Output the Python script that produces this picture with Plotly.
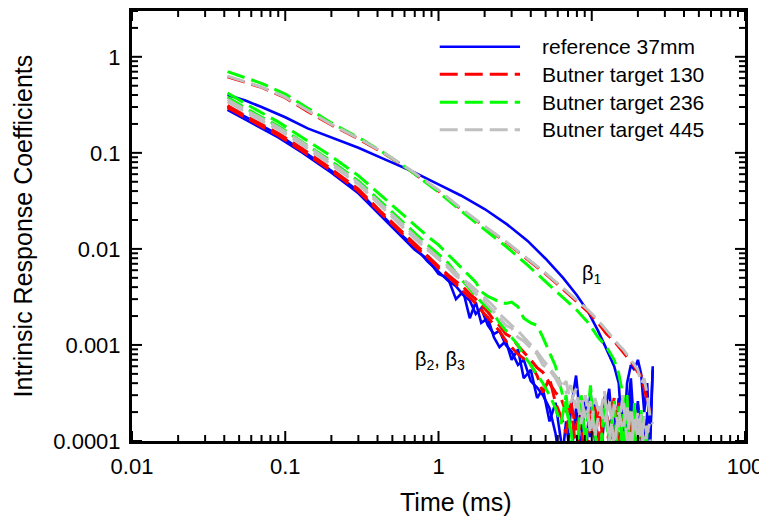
import plotly.graph_objects as go

# time axis (ms) for the beta1 curves and for the beta2/beta3 curves
t_upper = [0.042, 0.055, 0.07, 0.1, 0.14, 0.2, 0.3, 0.45, 0.65, 1.0, 1.4, 2.0, 2.8, 3.8, 5.0, 6.5,
           8.0, 9.5, 11, 12.5, 14, 15, 16, 17, 18, 19, 20, 21, 22, 23, 24, 25]
t_lower = [0.042, 0.06, 0.09, 0.13, 0.2, 0.3, 0.42, 0.56, 0.7, 0.85, 1.0, 1.15, 1.3, 1.45, 1.6, 1.75,
           1.9, 2.1, 2.3, 2.5, 2.75, 3.0, 3.3, 3.6, 4.0, 4.4, 4.8, 5.3, 5.8, 6.3,
           6.8, 7.3, 7.9, 8.5, 9.1, 9.8, 10.5, 11.3, 12.1, 13, 14, 15, 16, 17, 18, 19, 20, 21, 22, 23, 24, 25]

# beta1
ref_b1 = [0.40, 0.35, 0.30, 0.235, 0.18, 0.145, 0.113, 0.085, 0.066, 0.047, 0.036, 0.026, 0.018, 0.0122,
          0.0079, 0.0050, 0.0033, 0.0022, 0.0014, 0.0009, 0.0006, 0.0004, 0.00008, 0.0004, 0.00062,
          0.00055, 0.0007, 0.0005, 0.0002, 0.0004, 0.00008, 0.0006]
b130_b1 = [0.62, 0.54, 0.48, 0.375, 0.27, 0.195, 0.14, 0.097, 0.066, 0.040, 0.026, 0.017, 0.0115, 0.0078,
           0.0055, 0.0038, 0.0028, 0.0022, 0.0017, 0.0013, 0.0011, 0.00095, 0.00085, 0.00075, 0.00068,
           0.0006, 0.00052, 0.00048, 0.00035, 0.00028, 0.0002, None]
b236_b1 = [0.70, 0.61, 0.53, 0.41, 0.29, 0.205, 0.145, 0.098, 0.066, 0.039, 0.025, 0.0158, 0.0104, 0.0068,
           0.0046, 0.0031, 0.0023, 0.0017, 0.0012, 0.00095, 0.0007, 0.0005, 0.0003, 0.00015, 0.00022,
           0.00008, 0.00018, 0.00006, 0.00012, 0.00005, None, None]
b445_b1 = [0.63, 0.55, 0.485, 0.38, 0.275, 0.198, 0.142, 0.098, 0.067, 0.041, 0.0265, 0.0172, 0.0117,
           0.0079, 0.0056, 0.0039, 0.0029, 0.0023, 0.0018, 0.0014, 0.00115, 0.001, 0.0009, 0.0008, 0.0007,
           0.00062, 0.00055, 0.0004, 0.00045, 0.0003, 0.00018, 0.00015]

# beta2 / beta3
ref_b2 = [0.30, 0.22, 0.155, 0.105, 0.065, 0.040, 0.023, 0.0145, 0.0105, 0.0074, 0.0058, 0.0047, 0.0041,
          0.0033, 0.0029, 0.0021, 0.0024, 0.0016, 0.0013, 0.0014, 0.0010, 0.00085, 0.00062, 0.0007, 0.00042,
          0.00036, 0.0003, 0.00022, 0.00012, 0.00005,
          0.00016, 0.00006, 0.00022, 0.00008, 0.0003, 0.00011, 0.00024, 0.00005, 0.00019, 0.00035, 0.00009,
          0.00028, 0.00007, 0.0002, 0.00045, 0.00012, 0.00026, 0.00006, 0.00018, 0.00004, 0.00011, 0.00055]
ref_b3 = [0.28, 0.205, 0.145, 0.10, 0.062, 0.038, 0.022, 0.014, 0.0098, 0.0078, 0.0055, 0.0050, 0.0030,
          0.0036, 0.0019, 0.0028, 0.0017, 0.0019, 0.0012, 0.00095, 0.0011, 0.0007, 0.0009, 0.00045, 0.00055,
          0.00028, 0.00035, 0.00016, 0.00025, 0.0001,
          0.00005, 0.00021, 0.00048, 0.00015, 0.00006, 0.00033, 0.0001, 0.00005, 0.00029, 0.00012, 0.00026,
          0.00004, 0.00022, 0.00009, 0.00031, 0.00007, 0.00024, 0.00013, 0.00005, 0.0002, 0.00008, 0.00004]
b130_b2 = [0.31, 0.225, 0.16, 0.11, 0.068, 0.042, 0.0245, 0.0158, 0.0112, 0.0085, 0.0066, 0.0054, 0.0046,
           0.0040, 0.0034, 0.0030, 0.0026, 0.0022, 0.0018, 0.0016, 0.0013, 0.0012, 0.00098, 0.00085, 0.0007,
           0.00058, 0.00052, 0.0004, 0.00032, 0.00028,
           0.0002, 0.00026, 0.00013, 0.00022, 0.0001, 0.00019, 0.00024, 0.00009, 0.00021, 0.00015, 0.00028,
           0.0001, 0.00018, 0.00008, 0.00016, 0.00011, 0.00007, 0.00015, 0.00009, None, None, None]
b130_b3 = [0.295, 0.215, 0.152, 0.104, 0.065, 0.040, 0.0235, 0.0152, 0.0107, 0.0082, 0.0063, 0.0052,
           0.0043, 0.0037, 0.0031, 0.0027, 0.0023, 0.0019, 0.0016, 0.0014, 0.0011, 0.00095, 0.0008, 0.00072,
           0.00062, 0.00048, 0.00032, 0.00045, 0.00025, 0.00018,
           0.00012, 0.00024, 0.00008, 0.00017, 0.00005, 0.00014, 0.00011, 0.00022, 0.00006, 0.00013, 0.00009,
           0.00025, 0.00012, 0.00006, 0.00019, 0.00009, 0.00014, 0.00005, 0.00011, 0.00007, None, None]
b236_b2 = [0.42, 0.30, 0.21, 0.145, 0.092, 0.058, 0.036, 0.024, 0.0175, 0.0135, 0.011, 0.0088, 0.0072,
           0.0062, 0.0052, 0.0045, 0.0036, 0.0032, 0.0030, 0.0028, 0.0027, 0.0028, 0.0025, 0.0019, 0.0017,
           0.0016, 0.0012, 0.00085, 0.0006, 0.00035,
           0.00022, 0.00013, 0.00005, 0.00032, 0.00009, 0.00038, 0.00012, 0.00006, 0.00027, 0.0001, 0.00004,
           0.00023, 0.00008, 0.0003, 0.00005, 0.00017, 0.00006, 0.00021, 0.00004, 0.00012, None, None]
b236_b3 = [0.38, 0.27, 0.19, 0.13, 0.082, 0.051, 0.031, 0.020, 0.0145, 0.011, 0.0088, 0.0072, 0.0056,
           0.0046, 0.0038, 0.0033, 0.0028, 0.0024, 0.0021, 0.0017, 0.0014, 0.0012, 0.001, 0.00078, 0.00062,
           0.0005, 0.0004, 0.0003, 0.00022, 0.00015,
           0.0003, 0.00012, 0.00006, 0.00028, 0.0001, 0.00032, 0.00012, 0.00005, 0.00022, 0.00009, 0.00026,
           0.00005, 0.00019, 0.00011, 0.00004, 0.00025, 0.00009, 0.00015, 0.00006, None, None, None]
b445_b2 = [0.34, 0.245, 0.175, 0.12, 0.075, 0.047, 0.028, 0.018, 0.0128, 0.0098, 0.0078, 0.0064, 0.0052,
           0.0047, 0.0040, 0.0034, 0.0031, 0.0026, 0.0022, 0.0019, 0.0016, 0.0015, 0.0012, 0.0011, 0.00092,
           0.0008, 0.00062, 0.00055, 0.00045, 0.00035,
           0.00042, 0.00025, 0.00035, 0.00015, 0.0003, 0.00012, 0.00028, 0.00018, 0.00033, 0.0001, 0.00024,
           0.00014, 0.0003, 0.0001, 0.00022, 0.00012, 0.0002, 0.00008, 0.00018, 0.00012, 0.00016, None]
b445_b3 = [0.36, 0.26, 0.185, 0.127, 0.079, 0.049, 0.0295, 0.019, 0.0134, 0.0102, 0.0081, 0.0066, 0.0056,
           0.0048, 0.0043, 0.0037, 0.0033, 0.0029, 0.0025, 0.0021, 0.0018, 0.0016, 0.0014, 0.0012, 0.001,
           0.00085, 0.0007, 0.00058, 0.00048, 0.0004,
           0.00032, 0.00038, 0.00022, 0.00029, 0.00017, 0.00026, 0.00011, 0.00023, 0.00015, 0.00027, 0.00009,
           0.0002, 0.00013, 0.00024, 0.00008, 0.00017, 0.00011, 0.00019, 0.00007, 0.00014, 0.0001, 0.00006]

legend_names = ["reference 37mm", "Butner target 130", "Butner target 236", "Butner target 445"]
legend_colors = ["#0000FF", "#FF0000", "#00FF00", "#C0C0C0"]
legend_dashes = ["solid", "dash", "dash", "dash"]

series = [
    (t_upper, ref_b1, 0), (t_lower, ref_b2, 0), (t_lower, ref_b3, 0),
    (t_upper, b130_b1, 1), (t_lower, b130_b2, 1), (t_lower, b130_b3, 1),
    (t_upper, b236_b1, 2), (t_lower, b236_b2, 2), (t_lower, b236_b3, 2),
    (t_upper, b445_b1, 3), (t_lower, b445_b2, 3), (t_lower, b445_b3, 3),
]

DASH = "18px,7px"
x_range = [-2, 2]
y_range = [-4, 0.477]

fig = go.Figure()
for t, v, k in series:
    fig.add_trace(go.Scatter(
        x=t, y=v, mode="lines", name=legend_names[k], showlegend=False,
        line=dict(color=legend_colors[k], width=2.6 if k == 0 else 3,
                  dash="solid" if legend_dashes[k] == "solid" else DASH),
    ))

# hand-drawn legend like the original (long line samples)
row_y = [0.917, 0.853, 0.788, 0.724]
for name, color, dash, y in zip(legend_names, legend_colors, legend_dashes, row_y):
    fig.add_shape(type="line", xref="paper", yref="paper", x0=0.502, x1=0.633, y0=y, y1=y,
                  line=dict(color=color, width=2.6 if dash == "solid" else 3,
                            dash="solid" if dash == "solid" else DASH))
    fig.add_annotation(xref="paper", yref="paper", x=0.666, y=y, text=name, showarrow=False,
                       xanchor="left", yanchor="middle", font=dict(size=21))

fig.add_annotation(x=1.0, y=-2.27, text="β<sub>1</sub>", showarrow=False, font=dict(size=20))
fig.add_annotation(x=0.013, y=-3.165, text="β<sub>2</sub>, β<sub>3</sub>", showarrow=False,
                   font=dict(size=20))

# axis titles placed like the original
fig.add_annotation(xref="paper", yref="paper", x=0.5286, y=-0.143, text="Time (ms)", showarrow=False,
                   xanchor="center", yanchor="middle", font=dict(size=25))
fig.add_annotation(xref="paper", yref="paper", x=-0.178, y=0.501, text="Intrinsic Response Coefficients",
                   showarrow=False, textangle=-90, xanchor="center", yanchor="middle", font=dict(size=25))

# inward tick marks on all four sides (major at decades, minor at 2..9)
x_major = [0.01, 0.1, 1, 10, 100]
y_major = [0.0001, 0.001, 0.01, 0.1, 1]
x_minor = [m * 10.0 ** e for e in range(-2, 2) for m in range(2, 10)]
y_minor = [m * 10.0 ** e for e in range(-4, 1) for m in range(2, 10) if m * 10.0 ** e <= 3]

tick_line = dict(color="black", width=2)
for vals, length in ((x_major, 10), (x_minor, 6)):
    for v in vals:
        fig.add_shape(type="line", xref="x", yref="paper", ysizemode="pixel", yanchor=0,
                      x0=v, x1=v, y0=0, y1=length, line=tick_line)
        fig.add_shape(type="line", xref="x", yref="paper", ysizemode="pixel", yanchor=1,
                      x0=v, x1=v, y0=0, y1=-length, line=tick_line)
for vals, length in ((y_major, 10), (y_minor, 6)):
    for v in vals:
        fig.add_shape(type="line", yref="y", xref="paper", xsizemode="pixel", xanchor=0,
                      y0=v, y1=v, x0=0, x1=length, line=tick_line)
        fig.add_shape(type="line", yref="y", xref="paper", xsizemode="pixel", xanchor=1,
                      y0=v, y1=v, x0=0, x1=-length, line=tick_line)

axis_style = dict(
    type="log", ticks="", showline=True, linewidth=3, linecolor="black", mirror=True,
    showgrid=False, tickmode="linear", tick0=0, dtick=1, exponentformat="none",
    ticklabelstandoff=4,
)
fig.update_xaxes(**axis_style, range=x_range)
fig.update_yaxes(**axis_style, range=y_range)

# the page body adds an 8px offset, so the figure is 8px smaller than the window
fig.update_layout(
    width=759, height=508,
    margin=dict(l=124, r=22, t=0, b=75),
    plot_bgcolor="white", paper_bgcolor="white",
    font=dict(family="Liberation Sans, Arial, sans-serif", size=22, color="black"),
    showlegend=False,
)

fig.write_html("out.html")
